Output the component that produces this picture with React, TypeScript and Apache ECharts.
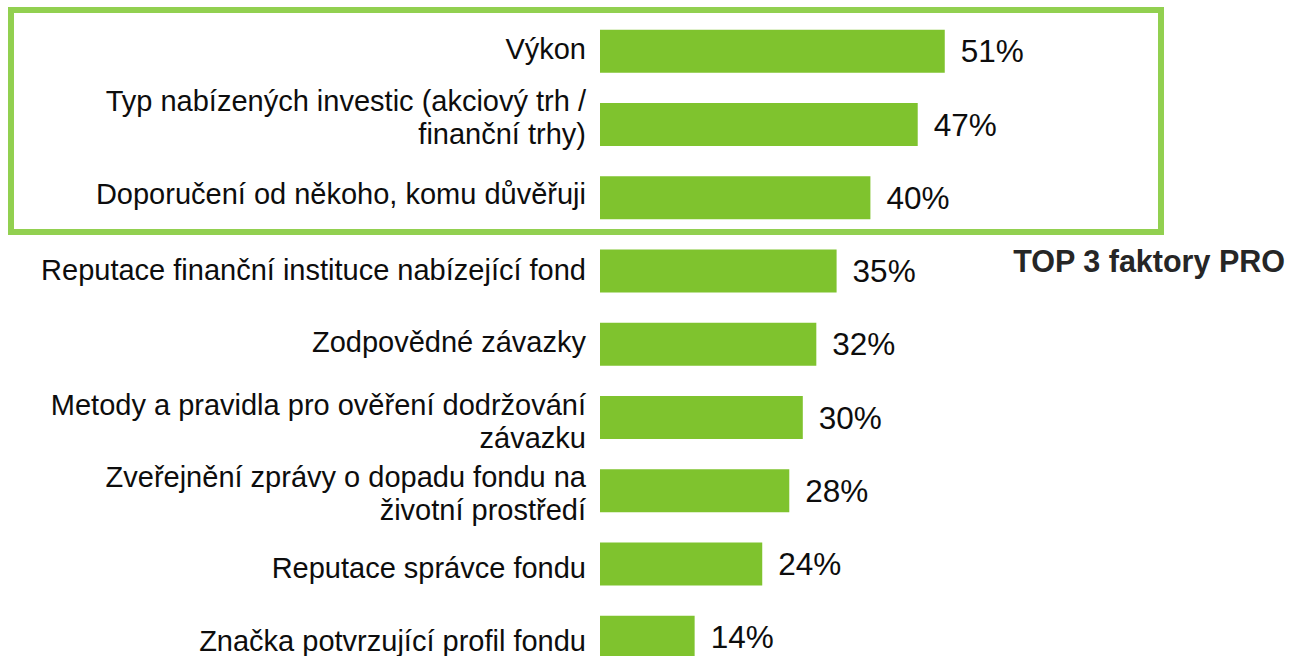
import React, { useEffect, useRef } from "react";
import * as echarts from "echarts";

const categories: string[] = [
  "Výkon",
  "Typ nabízených investic (akciový trh /\nfinanční trhy)",
  "Doporučení od někoho, komu důvěřuji",
  "Reputace finanční instituce nabízející fond",
  "Zodpovědné závazky",
  "Metody a pravidla pro ověření dodržování\nzávazku",
  "Zveřejnění zprávy o dopadu fondu na\nživotní prostředí",
  "Reputace správce fondu",
  "Značka potvrzující profil fondu",
];

const values: number[] = [51, 47, 40, 35, 32, 30, 28, 24, 14];

const boxTitle = "TOP 3 faktory PRO";

// small vertical nudges (px) of the category labels, as in the original layout
const labelNudge: number[] = [-2, -7, -4, -1, -2, 4, 3, 4, 4];

const FONT = "'Liberation Sans', Arial, sans-serif";

export default function App() {
  const ref = useRef<HTMLDivElement>(null);

  useEffect(() => {
    if (!ref.current) return;
    const chart = echarts.init(ref.current, undefined, { renderer: "svg" });

    const rich: Record<string, any> = {
      t: { fontFamily: FONT, fontSize: 29, lineHeight: 33, color: "#0d0d0d" },
    };
    labelNudge.forEach((s) => {
      const h = Math.abs(2 * s);
      if (h > 0) rich["sp" + h] = { fontSize: 1, lineHeight: h, height: h };
    });

    chart.setOption({
      animation: false,
      backgroundColor: "#ffffff",
      grid: { left: 600, right: 15, top: 14.7, bottom: 0, containLabel: false },
      xAxis: {
        type: "value",
        min: 0,
        max: 100,
        show: false,
      },
      yAxis: {
        type: "category",
        data: categories,
        inverse: true,
        axisLine: { show: false },
        axisTick: { show: false },
        splitLine: { show: false },
        axisLabel: {
          margin: 14,
          color: "#0d0d0d",
          fontFamily: FONT,
          fontSize: 29,
          lineHeight: 33,
          align: "right",
          rich,
          formatter: (value: string, index: number) => {
            const s = labelNudge[index] || 0;
            const body = value
              .split("\n")
              .map((l) => `{t|${l}}`)
              .join("\n");
            const sp = `{sp${Math.abs(2 * s)}| }`;
            if (s < 0) return body + "\n" + sp;
            if (s > 0) return sp + "\n" + body;
            return body;
          },
        },
      },
      series: [
        {
          type: "bar",
          data: values,
          barWidth: 43,
          itemStyle: { color: "#7fc32e" },
          label: {
            show: true,
            position: "right",
            distance: 16,
            color: "#0d0d0d",
            fontFamily: FONT,
            fontSize: 31.5,
            formatter: (p: any) => `${p.value}%`,
          },
        },
      ],
      graphic: [
        {
          type: "rect",
          shape: { x: 11, y: 10, width: 1150, height: 222 },
          style: { fill: "none", stroke: "#92d050", lineWidth: 6 },
          z: 10,
        },
        {
          type: "text",
          x: 1285,
          y: 261,
          style: {
            text: boxTitle,
            fill: "#262626",
            font: `bold 30.5px ${FONT}`,
            textAlign: "right",
            textVerticalAlign: "middle",
          },
          z: 10,
        },
      ],
    });
    return () => chart.dispose();
  }, []);

  return (
    <div
      style={{
        position: "absolute",
        left: 0,
        top: 0,
        width: 1291,
        height: 656,
        overflow: "hidden",
        background: "#ffffff",
      }}
    >
      <div ref={ref} style={{ width: 1291, height: 674 }} />
    </div>
  );
}
